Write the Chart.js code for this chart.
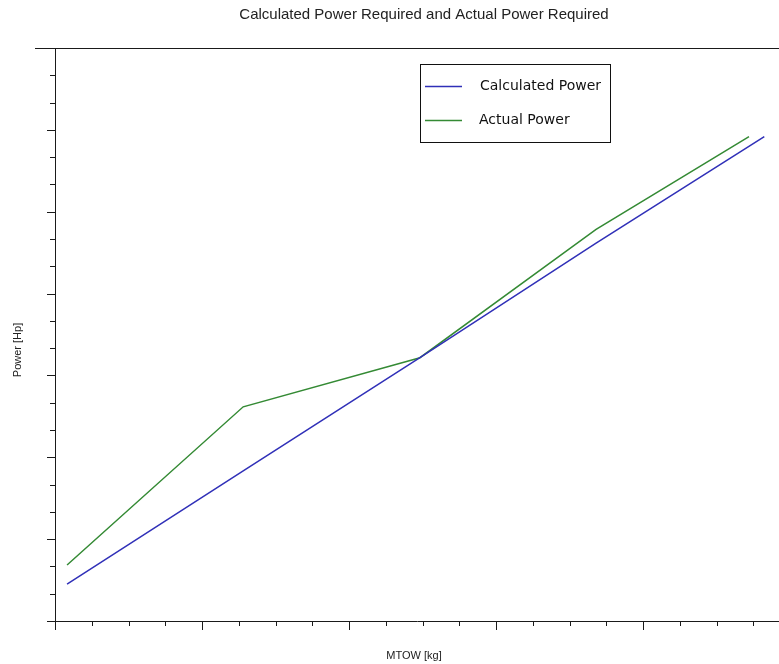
<!DOCTYPE html>
<html>
<head>
<meta charset="utf-8">
<script src="https://cdn.jsdelivr.net/npm/chart.js@4.4.1/dist/chart.umd.min.js"></script>
<style>
  html, body { margin: 0; padding: 0; background: #fff; }
  #wrap { width: 779px; height: 664px; }
</style>
</head>
<body>
<div id="wrap"><canvas id="powerChart"></canvas></div>
<script>
const chartTitle = 'Calculated Power Required and Actual Power Required';
const xTitle = 'MTOW [kg]';
const yTitle = 'Power [Hp]';
const seriesNames = ['Calculated Power', 'Actual Power'];

// values (axis has no labels, units are relative)
const calcMtow = [41, 640, 1241, 1840, 2412];
const calcPower = [27, 110, 193, 277, 355];
const actualMtow = [41, 640, 1241, 1840, 2360];
const actualPower = [41, 157, 193, 287, 355];

const xMax = 2462;
const xMinorStep = 125;
const xMajorStep = 500;
const yMax = 420;
const yMinorStep = 20;
const yMajorStep = 60;

const lineColors = ['#3030b8', '#348a34'];
const axisColor = '#1a1a1a';
const textFont = '"Liberation Sans", Arial, sans-serif';

const toPoints = (xs, ys) => xs.map((x, i) => ({ x: x, y: ys[i] }));

const decorations = {
  id: 'decorations',
  afterDraw(chart) {
    const ctx = chart.ctx;
    const xs = chart.scales.x;
    const ys = chart.scales.y;
    const area = chart.chartArea;

    ctx.save();
    ctx.strokeStyle = axisColor;
    ctx.lineWidth = 1;

    // top frame line
    ctx.beginPath();
    ctx.moveTo(35, Math.round(area.top) + 0.5);
    ctx.lineTo(chart.width, Math.round(area.top) + 0.5);
    ctx.stroke();

    // x ticks below axis
    ctx.beginPath();
    for (let v = 0; v <= xMax; v += xMinorStep) {
      const px = Math.round(xs.getPixelForValue(v)) + 0.5;
      const len = v % xMajorStep === 0 ? 9 : 5;
      ctx.moveTo(px, area.bottom);
      ctx.lineTo(px, area.bottom + len);
    }
    // y ticks left of axis
    for (let v = 0; v <= yMax; v += yMinorStep) {
      const py = Math.round(ys.getPixelForValue(v)) + 0.5;
      const len = v % yMajorStep === 0 ? 8 : 5;
      ctx.moveTo(area.left, py);
      ctx.lineTo(area.left - len, py);
    }
    ctx.stroke();

    // titles
    ctx.fillStyle = '#222';
    ctx.textAlign = 'center';
    ctx.textBaseline = 'middle';
    ctx.font = '15px ' + textFont;
    ctx.fillText(chartTitle, 424, 15);
    ctx.font = '11px ' + textFont;
    ctx.fillText(xTitle, 414, 656);
    ctx.save();
    ctx.translate(18, 350);
    ctx.rotate(-Math.PI / 2);
    ctx.fillText(yTitle, 0, 0);
    ctx.restore();

    // legend box
    ctx.strokeStyle = '#111';
    ctx.strokeRect(420.5, 64.5, 190, 78);
    ctx.font = '14px "DejaVu Sans", sans-serif';
    ctx.textAlign = 'left';
    chart.data.datasets.forEach((ds, i) => {
      const y = 86 + i * 34 + 0.5;
      ctx.strokeStyle = ds.borderColor;
      ctx.lineWidth = 1.5;
      ctx.beginPath();
      ctx.moveTo(425, y);
      ctx.lineTo(462, y);
      ctx.stroke();
      ctx.fillStyle = '#111';
      ctx.fillText(ds.label, 480 - i, y);
    });
    ctx.restore();
  }
};

new Chart(document.getElementById('powerChart'), {
  type: 'line',
  data: {
    datasets: [
      {
        label: seriesNames[0],
        data: toPoints(calcMtow, calcPower),
        borderColor: lineColors[0],
        borderWidth: 1.5,
        pointRadius: 0,
        tension: 0
      },
      {
        label: seriesNames[1],
        data: toPoints(actualMtow, actualPower),
        borderColor: lineColors[1],
        borderWidth: 1.5,
        pointRadius: 0,
        tension: 0
      }
    ]
  },
  options: {
    responsive: true,
    maintainAspectRatio: false,
    animation: false,
    layout: { padding: { top: 48, left: 0, right: 0, bottom: 0 } },
    plugins: {
      legend: { display: false },
      title: { display: false },
      tooltip: { enabled: false }
    },
    scales: {
      x: {
        type: 'linear',
        min: 0,
        max: xMax,
        ticks: { display: false, stepSize: xMinorStep },
        grid: { display: false },
        border: { display: true, color: axisColor, width: 1 },
        afterFit: s => { s.height = 43; }
      },
      y: {
        min: 0,
        max: yMax,
        ticks: { display: false, stepSize: yMinorStep },
        grid: { display: false },
        border: { display: true, color: axisColor, width: 1 },
        afterFit: s => { s.height = s.height; s.width = 55; }
      }
    }
  },
  plugins: [decorations]
});
</script>
</body>
</html>
